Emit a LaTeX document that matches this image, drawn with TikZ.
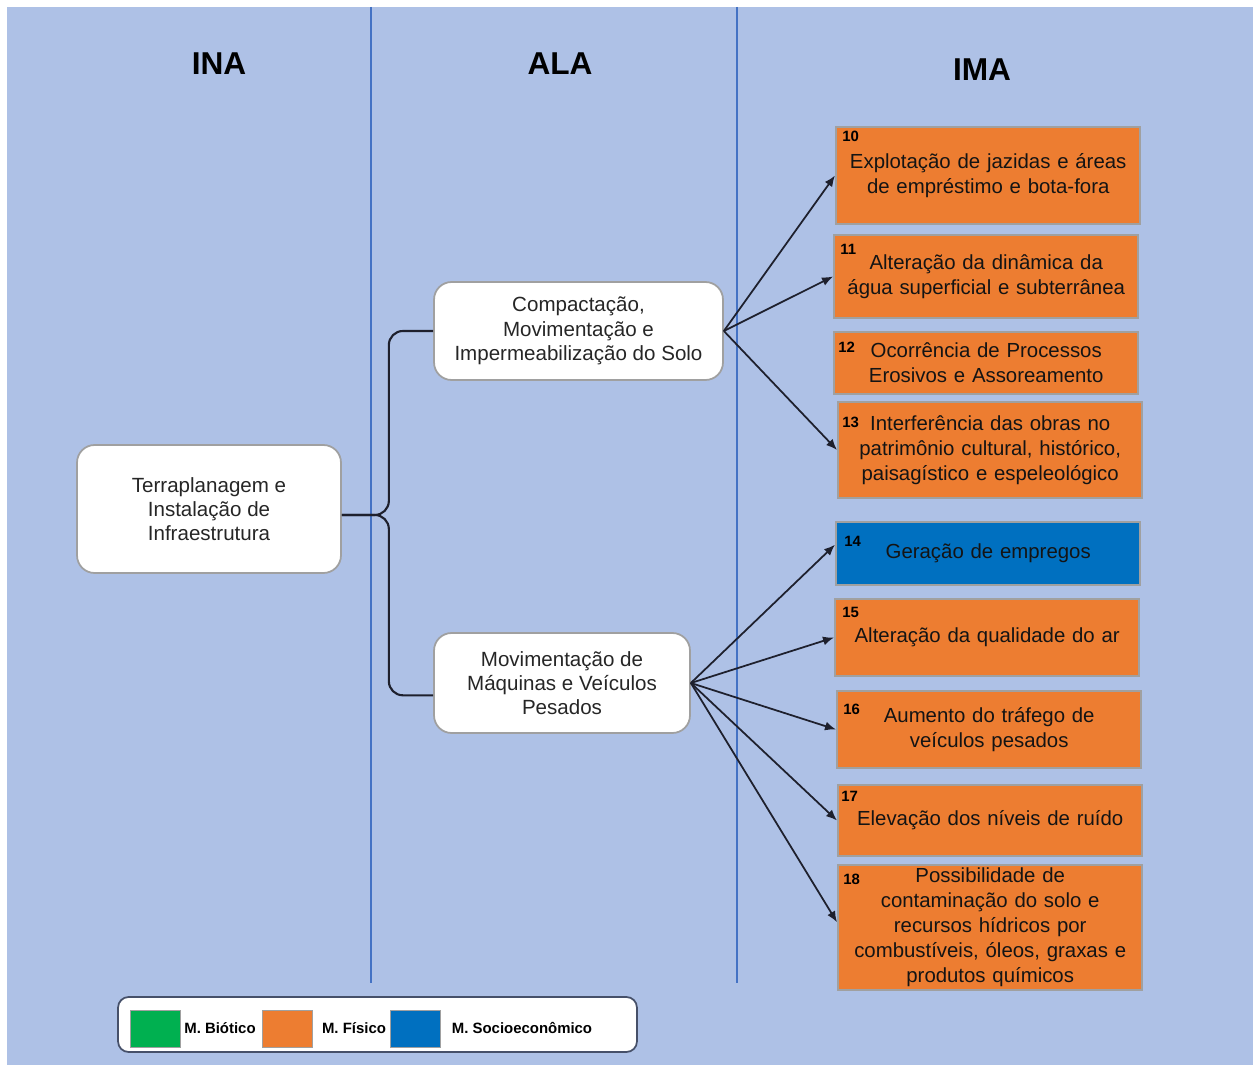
\documentclass[tikz,border=0pt]{standalone}
\usepackage{fontspec}
\setmainfont{Liberation Sans}
\usetikzlibrary{arrows.meta,positioning}
\definecolor{bgblue}{RGB}{174,193,230}
\definecolor{rulecol}{RGB}{68,114,196}
\definecolor{fisico}{RGB}{237,125,49}
\definecolor{socio}{RGB}{0,112,192}
\definecolor{biotico}{RGB}{0,176,80}
\definecolor{edgegray}{RGB}{160,160,160}
\definecolor{ink}{RGB}{30,32,45}
\definecolor{legendedge}{RGB}{70,80,105}
\tikzset{
  header/.style={
    font=\fontsize{18}{20}\selectfont\bfseries,
    text=black
  },
  action/.style={
    rectangle,
    rounded corners=10pt,
    draw=edgegray,
    line width=1pt,
    fill=white,
    align=center,
    inner sep=2pt,
    font=\fontsize{11.7}{13.8}\selectfont,
    text=black!85
  },
  impact/.style={
    rectangle,
    draw=edgegray,
    line width=1.4pt,
    fill=fisico,
    align=center,
    anchor=west,
    minimum width=6.08cm,
    text width=5.95cm,
    inner sep=0pt,
    font=\fontsize{11.6}{14.2}\selectfont,
    text=black!92
  },
  social/.style={
    impact,
    fill=socio
  },
  num/.style={
    anchor=north west,
    inner sep=0pt,
    font=\fontsize{8.5}{9}\selectfont\bfseries
  },
  divider/.style={
    draw=rulecol,
    line width=0.8pt
  },
  arrow/.style={
    -{Latex[length=2.2mm,width=1.8mm]},
    line width=1pt,
    draw=ink
  },
  link/.style={
    line width=1.2pt,
    draw=ink,
    rounded corners=8pt
  },
  legendbox/.style={
    rectangle,
    rounded corners=6pt,
    draw=legendedge,
    line width=1pt,
    fill=white,
    minimum width=10.38cm,
    minimum height=1.1cm
  },
  swatch/.style={
    rectangle,
    draw=edgegray,
    line width=0.5pt,
    inner sep=0pt,
    minimum width=1cm,
    minimum height=0.74cm
  },
  legendtext/.style={
    inner sep=0pt,
    font=\fontsize{8.5}{10}\selectfont\bfseries
  }
}
\begin{document}
\begin{tikzpicture}[x=0.02cm, y=-0.02cm]
  \useasboundingbox (0,0) rectangle (1253,1064);
  \fill[white] (0,0) rectangle (1253,1064);
  \fill[bgblue] (7,7) rectangle (1270,1080);

  % column rules
  \draw[divider] (371,7) -- (371,983);
  \draw[divider] (737,7) -- (737,983);

  % column titles
  \node[header] (ina) at (219,64) {INA};
  \node[header] (ala) at (560,64) {ALA};
  \node[header] (ima) at (982,70) {IMA};

  % actions
  \node[action, minimum width=5.28cm, minimum height=2.56cm] (terra) at (209,509) {Terraplanagem e\\Instalação de\\Infraestrutura};
  \node[action, minimum width=5.78cm, minimum height=1.96cm] (compact) at (578.5,331) {Compactação,\\Movimentação e\\Impermeabilização do Solo};
  \node[action, minimum width=5.12cm, minimum height=2.0cm] (maquinas) at (562,683) {Movimentação de\\Máquinas e Veículos\\Pesados};

  % impacts
  \node[impact, minimum height=1.94cm] (b10) at (835,175.5) {Explotação de jazidas e áreas\\de empréstimo e bota-fora};
  \node[impact, minimum height=1.66cm] (b11) at (833,276.5) {Alteração da dinâmica da\\água superficial e subterrânea};
  \node[impact, minimum height=1.24cm] (b12) at (833,363) {Ocorrência de Processos\\Erosivos e Assoreamento};
  \node[impact, minimum height=1.92cm] (b13) at (837,450) {Interferência das obras no\\patrimônio cultural, histórico,\\paisagístico e espeleológico};
  \node[social, minimum height=1.26cm] (b14) at (835,553.5) {Geração de empregos};
  \node[impact, minimum height=1.54cm] (b15) at (834,637.5) {Alteração da qualidade do ar};
  \node[impact, minimum height=1.54cm] (b16) at (836,729.5) {Aumento do tráfego de\\veículos pesados};
  \node[impact, minimum height=1.42cm] (b17) at (837,820.5) {Elevação dos níveis de ruído};
  \node[impact, minimum height=2.5cm] (b18) at (837,927.5) {Possibilidade de\\contaminação do solo e\\recursos hídricos por\\combustíveis, óleos, graxas e\\produtos químicos};

  % impact numbers
  \node[num] (n10) at ([shift={(7,5)}]b10.north west) {10};
  \node[num] (n11) at ([shift={(7,10)}]b11.north west) {11};
  \node[num] (n12) at ([shift={(5,11)}]b12.north west) {12};
  \node[num] (n13) at ([shift={(5,16)}]b13.north west) {13};
  \node[num] (n14) at ([shift={(9,15)}]b14.north west) {14};
  \node[num] (n15) at ([shift={(8,9)}]b15.north west) {15};
  \node[num] (n16) at ([shift={(7,14)}]b16.north west) {16};
  \node[num] (n17) at ([shift={(4,7)}]b17.north west) {17};
  \node[num] (n18) at ([shift={(6,10)}]b18.north west) {18};

  % branch from the main action
  \coordinate (start) at ([yshift=-3.4pt]terra.east);
  \coordinate (fork) at ([xshift=0.94cm]start);
  \draw[link] (start) -- (fork) |- (compact.west);
  \draw[link] (start) -- (fork) |- ([yshift=-7pt]maquinas.west);

  \draw[arrow] (compact.east) -- (b10.west);
  \draw[arrow] (compact.east) -- (b11.west);
  \draw[arrow] (compact.east) -- (b13.west);

  \draw[arrow] (maquinas.east) -- ([yshift=5pt]b14.west);
  \draw[arrow] (maquinas.east) -- (b15.west);
  \draw[arrow] (maquinas.east) -- (b16.west);
  \draw[arrow] (maquinas.east) -- (b17.west);
  \draw[arrow] (maquinas.east) -- ([yshift=3pt]b18.west);

  % legend
  \node[legendbox] (legend) at (377.5,1024.5) {};
  \node[swatch, fill=biotico] (sbio) at (155,1028.5) {};
  \node[legendtext] (tbio) at (220,1028) {M. Biótico};
  \node[swatch, fill=fisico] (sfis) at (287,1028.5) {};
  \node[legendtext] (tfis) at (354,1028) {M. Físico};
  \node[swatch, fill=socio] (ssoc) at (415,1028.5) {};
  \node[legendtext] (tsoc) at (522,1028) {M. Socioeconômico};
\end{tikzpicture}
\end{document}
